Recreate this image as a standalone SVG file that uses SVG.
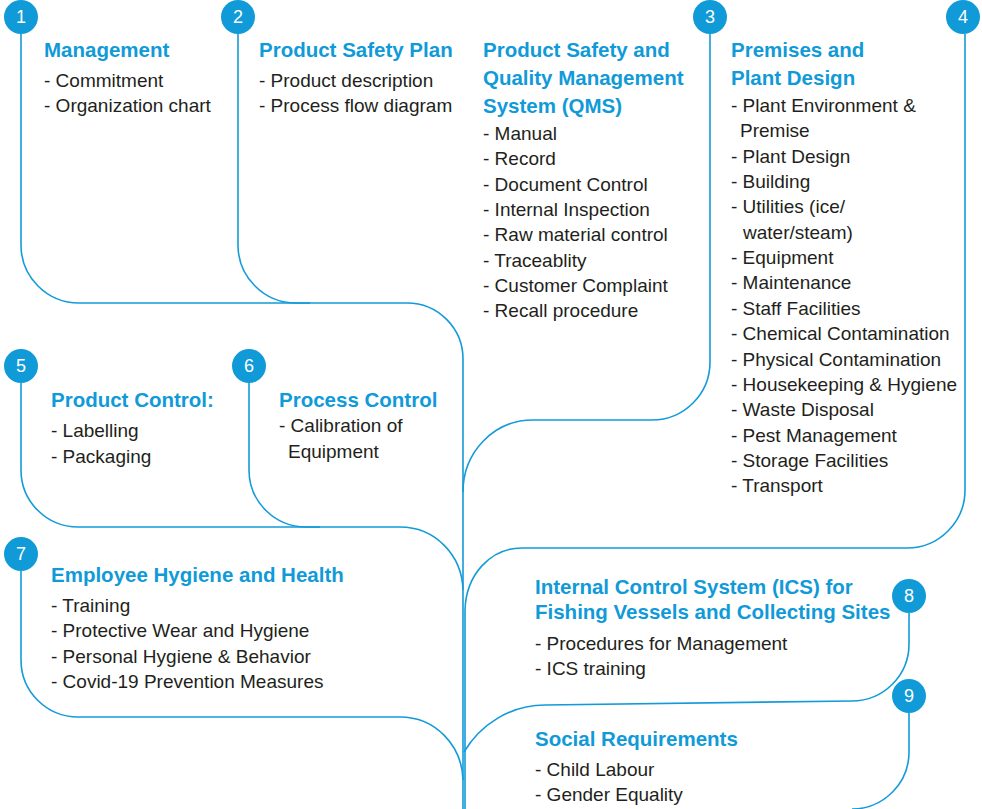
<svg xmlns="http://www.w3.org/2000/svg" width="982" height="809" viewBox="0 0 982 809">
<style>
.ln{fill:none;stroke:#139bd9;stroke-width:1.6}
.c{fill:#109ad8}
.n{font-family:"Liberation Sans",Arial,sans-serif;font-size:18px;fill:#fff;text-anchor:middle}
.t{font-family:"Liberation Sans",Arial,sans-serif;font-size:20.5px;font-weight:bold;fill:#109ad8}
.b{font-family:"Liberation Sans",Arial,sans-serif;font-size:19px;fill:#231f20}
</style>
<rect width="982" height="809" fill="#fff"/>
<g id="connectors">
<path class="ln" d="M21,34 V245 A58,58 0 0 0 79,303 H407 A56,56 0 0 1 463,359 V809"/>
<path class="ln" d="M238,34 V245 A58,58 0 0 0 296,303 H310"/>
<path class="ln" d="M710,34 V362 A58,58 0 0 1 652,420 H533 C494,420 463,452 463,492"/>
<path class="ln" d="M965,34 V490 A58,58 0 0 1 907,548 H522 C490,548 466,575 465,610 V809"/>
<path class="ln" d="M21,383 V470 A57,57 0 0 0 78,527 H400 C435,527 462,555 463,590"/>
<path class="ln" d="M249,383 V470 A57,57 0 0 0 306,527 H320"/>
<path class="ln" d="M21,571 V660 A57,57 0 0 0 78,717 H400 C435,717 462,745 463,780"/>
<path class="ln" d="M909,613 V644 A57,57 0 0 1 852,701 L545,705 C510,705 480,725 464,752"/>
<path class="ln" d="M909,713 V752 A57,57 0 0 1 852,809"/>
</g>
<g id="node1">
<circle class="c" cx="21" cy="17" r="17"/><text class="n" x="21" y="23">1</text>
<text class="t" x="44" y="57">Management</text>
<text class="b" x="44" y="87">- Commitment</text>
<text class="b" x="44" y="112">- Organization chart</text>
</g>
<g id="node2">
<circle class="c" cx="238" cy="17" r="17"/><text class="n" x="238" y="23">2</text>
<text class="t" x="259" y="57">Product Safety Plan</text>
<text class="b" x="259" y="87">- Product description</text>
<text class="b" x="259" y="112">- Process flow diagram</text>
</g>
<g id="node3">
<circle class="c" cx="710" cy="17" r="17"/><text class="n" x="710" y="23">3</text>
<text class="t" x="483" y="57">Product Safety and</text>
<text class="t" x="483" y="85">Quality Management</text>
<text class="t" x="483" y="113">System (QMS)</text>
<text class="b" x="483" y="140">- Manual</text>
<text class="b" x="483" y="165">- Record</text>
<text class="b" x="483" y="191">- Document Control</text>
<text class="b" x="483" y="216">- Internal Inspection</text>
<text class="b" x="483" y="241">- Raw material control</text>
<text class="b" x="483" y="267">- Traceablity</text>
<text class="b" x="483" y="292">- Customer Complaint</text>
<text class="b" x="483" y="317">- Recall procedure</text>
</g>
<g id="node4">
<circle class="c" cx="963" cy="17" r="17"/><text class="n" x="963" y="23">4</text>
<text class="t" x="731" y="57">Premises and</text>
<text class="t" x="731" y="85">Plant Design</text>
<text class="b" x="731" y="112">- Plant Environment &amp;</text>
<text class="b" x="740" y="137">Premise</text>
<text class="b" x="731" y="163">- Plant Design</text>
<text class="b" x="731" y="188">- Building</text>
<text class="b" x="731" y="213">- Utilities (ice/</text>
<text class="b" x="743" y="239">water/steam)</text>
<text class="b" x="731" y="264">- Equipment</text>
<text class="b" x="731" y="289">- Maintenance</text>
<text class="b" x="731" y="315">- Staff Facilities</text>
<text class="b" x="731" y="340">- Chemical Contamination</text>
<text class="b" x="731" y="366">- Physical Contamination</text>
<text class="b" x="731" y="391">- Housekeeping &amp; Hygiene</text>
<text class="b" x="731" y="416">- Waste Disposal</text>
<text class="b" x="731" y="442">- Pest Management</text>
<text class="b" x="731" y="467">- Storage Facilities</text>
<text class="b" x="731" y="492">- Transport</text>
</g>
<g id="node5">
<circle class="c" cx="21" cy="366" r="17"/><text class="n" x="21" y="372">5</text>
<text class="t" x="51" y="407">Product Control:</text>
<text class="b" x="51" y="437">- Labelling</text>
<text class="b" x="51" y="463">- Packaging</text>
</g>
<g id="node6">
<circle class="c" cx="249" cy="366" r="17"/><text class="n" x="249" y="372">6</text>
<text class="t" x="279" y="407">Process Control</text>
<text class="b" x="279" y="432">- Calibration of</text>
<text class="b" x="288" y="458">Equipment</text>
</g>
<g id="node7">
<circle class="c" cx="21" cy="554" r="17"/><text class="n" x="21" y="560">7</text>
<text class="t" x="51" y="582">Employee Hygiene and Health</text>
<text class="b" x="51" y="612">- Training</text>
<text class="b" x="51" y="637">- Protective Wear and Hygiene</text>
<text class="b" x="51" y="663">- Personal Hygiene &amp; Behavior</text>
<text class="b" x="51" y="688">- Covid-19 Prevention Measures</text>
</g>
<g id="node8">
<circle class="c" cx="909" cy="596" r="17"/><text class="n" x="909" y="602">8</text>
<text class="t" x="535" y="594">Internal Control System (ICS) for</text>
<text class="t" x="535" y="619">Fishing Vessels and Collecting Sites</text>
<text class="b" x="535" y="650">- Procedures for Management</text>
<text class="b" x="535" y="675">- ICS training</text>
</g>
<g id="node9">
<circle class="c" cx="909" cy="696" r="17"/><text class="n" x="909" y="702">9</text>
<text class="t" x="535" y="746">Social Requirements</text>
<text class="b" x="535" y="776">- Child Labour</text>
<text class="b" x="535" y="801">- Gender Equality</text>
</g>
</svg>
